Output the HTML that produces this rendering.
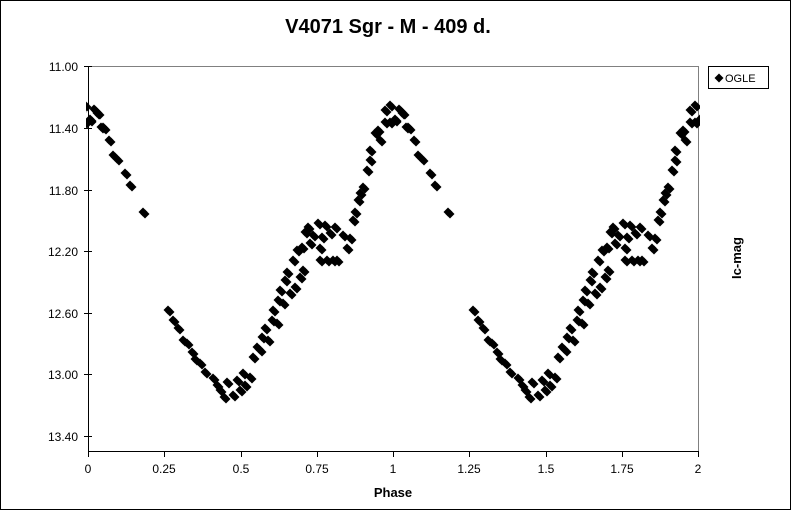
<!DOCTYPE html>
<html><head><meta charset="utf-8"><style>
body{margin:0;background:#fff}
svg{display:block;font-family:"Liberation Sans",Arial,sans-serif}
</style></head><body>
<svg width="791" height="510" viewBox="0 0 791 510">
<defs>
<path id="d" d="M0,-4.5 L4.5,0 L0,4.5 L-4.5,0 Z" fill="#000"/>
<clipPath id="c"><rect x="86" y="60" width="614" height="394"/></clipPath>
<g id="s">
<use href="#d" x="90" y="120"/><use href="#d" x="94" y="109"/><use href="#d" x="97" y="113"/><use href="#d" x="101" y="127"/><use href="#d" x="104" y="128"/><use href="#d" x="109" y="140"/><use href="#d" x="113" y="155"/><use href="#d" x="117" y="159"/><use href="#d" x="125" y="173"/><use href="#d" x="130" y="185"/><use href="#d" x="143" y="212"/>
<use href="#d" x="168" y="310"/><use href="#d" x="173" y="320"/><use href="#d" x="178" y="328"/><use href="#d" x="183" y="340"/><use href="#d" x="187" y="343"/><use href="#d" x="192" y="352"/><use href="#d" x="195" y="359"/><use href="#d" x="200" y="363"/><use href="#d" x="205" y="372"/><use href="#d" x="213" y="378"/><use href="#d" x="217" y="385"/><use href="#d" x="220" y="390"/><use href="#d" x="224" y="397"/><use href="#d" x="227" y="382"/><use href="#d" x="233" y="395"/><use href="#d" x="237" y="380"/><use href="#d" x="240" y="390"/><use href="#d" x="243" y="373"/><use href="#d" x="245" y="385"/><use href="#d" x="250" y="377"/><use href="#d" x="253" y="357"/><use href="#d" x="257" y="347"/><use href="#d" x="260" y="350"/><use href="#d" x="262" y="337"/><use href="#d" x="265" y="328"/><use href="#d" x="268" y="340"/><use href="#d" x="272" y="320"/><use href="#d" x="273" y="310"/><use href="#d" x="277" y="323"/><use href="#d" x="278" y="300"/><use href="#d" x="280" y="290"/><use href="#d" x="283" y="303"/><use href="#d" x="285" y="280"/><use href="#d" x="287" y="272"/><use href="#d" x="290" y="293"/><use href="#d" x="293" y="260"/><use href="#d" x="295" y="287"/><use href="#d" x="297" y="250"/><use href="#d" x="300" y="277"/><use href="#d" x="302" y="247"/><use href="#d" x="303" y="270"/><use href="#d" x="305" y="232"/><use href="#d" x="308" y="227"/><use href="#d" x="310" y="243"/><use href="#d" x="313" y="235"/><use href="#d" x="318" y="223"/><use href="#d" x="320" y="248"/><use href="#d" x="322" y="237"/><use href="#d" x="320" y="260"/><use href="#d" x="325" y="225"/><use href="#d" x="327" y="260"/><use href="#d" x="330" y="233"/><use href="#d" x="333" y="260"/><use href="#d" x="335" y="227"/><use href="#d" x="337" y="260"/><use href="#d" x="343" y="235"/><use href="#d" x="347" y="248"/><use href="#d" x="350" y="238"/><use href="#d" x="353" y="220"/><use href="#d" x="355" y="212"/><use href="#d" x="358" y="200"/><use href="#d" x="360" y="193"/><use href="#d" x="363" y="187"/><use href="#d" x="367" y="170"/><use href="#d" x="370" y="160"/><use href="#d" x="370" y="150"/><use href="#d" x="375" y="133"/><use href="#d" x="378" y="130"/><use href="#d" x="380" y="140"/><use href="#d" x="385" y="122"/><use href="#d" x="385" y="110"/><use href="#d" x="390" y="105"/><use href="#d" x="390" y="122"/><use href="#d" x="395" y="119"/><use href="#d" x="400" y="110"/><use href="#d" x="403" y="113"/><use href="#d" x="408" y="127"/>
</g>
<g id="s2"><use href="#s"/><use href="#s" transform="translate(2,2)"/></g>
</defs>
<rect x="0.5" y="0.5" width="790" height="509" fill="#fff" stroke="#000"/>
<text x="388" y="33" font-size="20" font-weight="bold" text-anchor="middle">V4071 Sgr - M - 409 d.</text>
<path d="M88,66.5 H698.5 V452" fill="none" stroke="#808080"/>
<path d="M88.5,66 V452 M88,451.5 H699" stroke="#000"/>
<g stroke="#000">
<path d="M84,66.5h8M84,128.5h8M84,190.5h8M84,251.5h8M84,313.5h8M84,374.5h8M84,436.5h8"/>
<path d="M88.5,452v5M164.5,452v5M241.5,452v5M317.5,452v5M393.5,452v5M469.5,452v5M546.5,452v5M622.5,452v5M698.5,452v5"/>
</g>
<g font-size="12" text-anchor="end">
<text x="78" y="71">11.00</text><text x="78" y="133">11.40</text><text x="78" y="195">11.80</text><text x="78" y="256">12.20</text><text x="78" y="318">12.60</text><text x="78" y="379">13.00</text><text x="78" y="441">13.40</text>
</g>
<g font-size="12" text-anchor="middle">
<text x="88" y="473">0</text><text x="164" y="473">0.25</text><text x="241" y="473">0.5</text><text x="317" y="473">0.75</text><text x="393" y="473">1</text><text x="469" y="473">1.25</text><text x="546" y="473">1.5</text><text x="622" y="473">1.75</text><text x="698" y="473">2</text>
</g>
<text x="393" y="497" font-size="13" font-weight="bold" text-anchor="middle">Phase</text>
<text transform="translate(741,258) rotate(-90)" font-size="13" font-weight="bold" text-anchor="middle">Ic-mag</text>
<rect x="708.5" y="66.5" width="60" height="22" fill="#fff" stroke="#000"/>
<use href="#d" x="719" y="78"/>
<text x="725" y="82" font-size="11">OGLE</text>
<g clip-path="url(#c)">
<use href="#s2"/>
<use href="#s2" transform="translate(305,0)"/>
<use href="#s2" transform="translate(-305,0)"/>
</g>
</svg>
</body></html>
